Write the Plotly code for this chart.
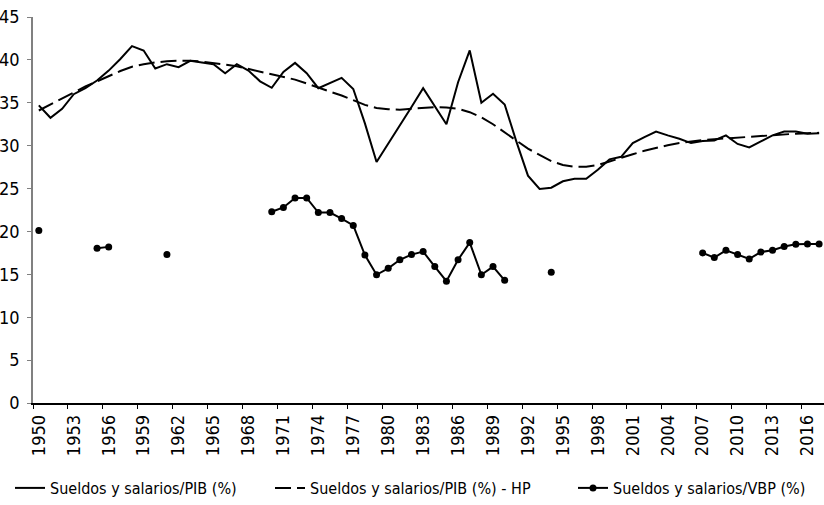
import plotly.graph_objects as go

years = list(range(1950, 2018))

pib = [34.7, 33.25, 34.3, 36.0, 36.7, 37.6, 38.75, 40.1, 41.6, 41.1,
       39.0, 39.5, 39.15, 39.9, 39.7, 39.5, 38.45, 39.5, 38.75, 37.5,
       36.75, 38.6, 39.65, 38.45, 36.7, 37.3, 37.9, 36.6, 32.6, 28.1,
       30.2, 32.3, 34.5, 36.7, 34.65, 32.5, 37.4, 41.1, 35.0, 36.05,
       34.8, 30.5, 26.5, 24.95, 25.1, 25.85, 26.15, 26.15, 27.2, 28.4,
       28.7, 30.3, 31.0, 31.65, 31.2, 30.8, 30.3, 30.55, 30.6, 31.2,
       30.2, 29.8, 30.5, 31.2, 31.65, 31.65, 31.4, 31.45]

pib_hp = [34.1, 34.8, 35.5, 36.2, 36.9, 37.5, 38.1, 38.7, 39.2, 39.5,
          39.7, 39.85, 39.9, 39.9, 39.8, 39.65, 39.45, 39.25, 38.95, 38.6,
          38.3, 38.0, 37.7, 37.25, 36.75, 36.3, 35.85, 35.3, 34.75, 34.4,
          34.25, 34.2, 34.3, 34.45, 34.5, 34.45, 34.3, 33.9, 33.3, 32.5,
          31.6, 30.6, 29.65, 28.9, 28.2, 27.75, 27.55, 27.55, 27.75, 28.15,
          28.6, 29.0, 29.4, 29.75, 30.05, 30.3, 30.5, 30.65, 30.75, 30.85,
          30.95, 31.05, 31.15, 31.25, 31.35, 31.4, 31.45, 31.5]

vbp = [20.1, None, None, None, None, 18.05, 18.2, None, None, None,
       None, 17.3, None, None, None, None, None, None, None, None,
       22.3, 22.8, 23.9, 23.9, 22.2, 22.2, 21.5, 20.7, 17.25, 14.95,
       15.7, 16.7, 17.3, 17.65, 15.9, 14.2, 16.7, 18.7, 14.95, 15.9,
       14.3, None, None, None, 15.25, None, None, None, None, None,
       None, None, None, None, None, None, None, 17.5, 16.95, 17.8,
       17.3, 16.8, 17.6, 17.8, 18.25, 18.5, 18.55, 18.55]

tick_years = list(range(1950, 2017, 3))
tick_labels = [str(y) for y in tick_years]
y_ticks = [0, 5, 10, 15, 20, 25, 30, 35, 40, 45]

FONT = "DejaVu Sans Condensed, Liberation Sans Narrow, sans-serif"
W, H = 824, 505

fig = go.Figure()
fig.add_trace(go.Scatter(
    x=years, y=pib, mode="lines", name="Sueldos y salarios/PIB (%)",
    line=dict(color="black", width=2), legend="legend"))
fig.add_trace(go.Scatter(
    x=years, y=pib_hp, mode="lines", name="Sueldos y salarios/PIB (%) - HP",
    line=dict(color="black", width=2, dash="16px,6px"), legend="legend2"))
fig.add_trace(go.Scatter(
    x=years, y=vbp, mode="lines+markers", name="Sueldos y salarios/VBP (%)",
    line=dict(color="black", width=2), marker=dict(color="black", size=7),
    connectgaps=False, legend="legend3"))

leg_common = dict(orientation="h", xref="container", yref="container",
                  xanchor="left", y=1 - 488 / H, yanchor="middle",
                  font=dict(family=FONT, size=16, color="black"),
                  bgcolor="rgba(0,0,0,0)", borderwidth=0)

fig.update_layout(
    width=W, height=H,
    margin=dict(l=33, r=0, t=17, b=102, autoexpand=False),
    paper_bgcolor="white", plot_bgcolor="white",
    font=dict(family=FONT, size=18, color="black"),
    showlegend=True,
    legend=dict(x=10 / W, **leg_common),
    legend2=dict(x=270 / W, **leg_common),
    legend3=dict(x=573 / W, **leg_common),
    hovermode=False,
)

fig.update_xaxes(
    range=[1949.5, 2017.42], automargin=False,
    tickmode="array", tickvals=tick_years, ticktext=tick_labels,
    tickangle=-90, ticks="", showgrid=False, zeroline=False,
    showline=True, linecolor="black", linewidth=1.5,
    tickfont=dict(family=FONT, size=18, color="black"),
    ticklabelstandoff=3,
    minor=dict(tickmode="array", tickvals=[y - 0.5 for y in tick_years],
               ticks="outside", ticklen=4, tickcolor="black", tickwidth=1,
               showgrid=False),
)
fig.update_yaxes(
    range=[0, 45], automargin=False, tickmode="array", tickvals=y_ticks,
    ticks="outside", ticklen=4, tickcolor="#808080", tickwidth=1,
    showgrid=False, zeroline=False,
    showline=True, linecolor="#808080", linewidth=1.5,
    tickfont=dict(family=FONT, size=18, color="black"),
    ticklabelstandoff=4,
)

fig.write_html("out.html", config={"displayModeBar": False},
               post_script="document.body.style.margin='0';")
